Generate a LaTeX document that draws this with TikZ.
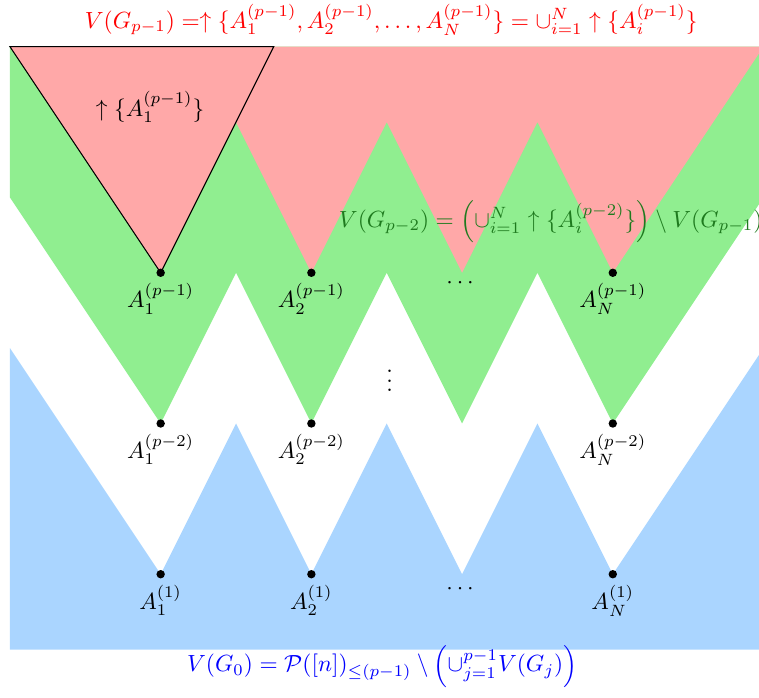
\documentclass[tikz,border=0pt]{standalone}
\usepackage{amsmath}
\usepackage{xcolor}
\usetikzlibrary{positioning}
\definecolor{upred}{HTML}{FFA8A8}
\definecolor{upgreen}{HTML}{90EE90}
\definecolor{upblue}{HTML}{AAD5FF}
\definecolor{txtgreen}{HTML}{1E7A1E}

\begin{document}
\begin{tikzpicture}[
    x=2cm, y=2cm,
    every node/.style={scale=0.883},
    pt/.style={circle, fill=black, inner sep=0pt, minimum size=3.6pt},
    ptlabel/.style={label distance=-1pt}
  ]
    \useasboundingbox (-0.066,-0.816) rectangle (4.97,3.81);

    % V(G_0)
    \fill[upblue] (0,1.5) -- (1,0) -- (1.5,1) -- (2,0) -- (2.5,1) -- (3,0) -- (3.5,1)
        -- (4,0) -- (5,1.5) -- (5,-0.5) -- (0,-0.5) -- cycle;
    % V(G_{p-2})
    \fill[upgreen] (0,3.5) -- (0,2.5) -- (1,1) -- (1.5,2) -- (2,1) -- (2.5,2) -- (3,1)
        -- (3.5,2) -- (4,1) -- (5,2.5) -- (5,3.5) -- cycle;
    % V(G_{p-1})
    \fill[upred] (0,3.5) -- (1,2) -- (1.5,3) -- (2,2) -- (2.5,3) -- (3,2) -- (3.5,3)
        -- (4,2) -- (5,3.5) -- cycle;
    \draw[thin] (0,3.5) -- (1,2) -- (1.75,3.5) -- cycle;

    \node (up1) at (0.93,3.1) {$\uparrow\{A_1^{(p-1)}\}$};

    \node[pt, label={[ptlabel]below:$A_1^{(p-1)}$}] (a11) at (1,2) {};
    \node[pt, label={[ptlabel]below:$A_2^{(p-1)}$}] (a12) at (2,2) {};
    \node[pt, label={[ptlabel]below:$A_N^{(p-1)}$}] (a1N) at (4,2) {};
    \node (dots1) at (3,1.93) {$\cdots$};

    \node[pt, label={[ptlabel]below:$A_1^{(p-2)}$}] (a21) at (1,1) {};
    \node[pt, label={[ptlabel]below:$A_2^{(p-2)}$}] (a22) at (2,1) {};
    \node[pt, label={[ptlabel]below:$A_N^{(p-2)}$}] (a2N) at (4,1) {};
    \node (vdots) at (2.52,1.33) {$\vdots$};

    \node[pt, label={[ptlabel]below:$A_1^{(1)}$}] (a31) at (1,0) {};
    \node[pt, label={[ptlabel]below:$A_2^{(1)}$}] (a32) at (2,0) {};
    \node[pt, label={[ptlabel]below:$A_N^{(1)}$}] (a3N) at (4,0) {};
    \node (dots3) at (3,-0.1) {$\cdots$};

    \node[text=red] (top) at (2.53,3.68)
        {$V(G_{p-1}) =\uparrow\{A_1^{(p-1)}, A_2^{(p-1)}, \ldots, A_N^{(p-1)}\} = \cup_{i=1}^N \uparrow\{A_i^{(p-1)}\}$};
    \node[text=txtgreen, anchor=west, inner sep=0pt] (mid) at (2.18,2.34)
        {$V(G_{p-2}) = \left(\cup_{i=1}^N \uparrow\{A_i^{(p-2)}\}\right) \setminus V(G_{p-1})$};
    \node[text=blue] (bot) at (2.47,-0.61)
        {$V(G_0) = \mathcal{P}([n])_{\leq (p-1)} \setminus \left(\cup_{j=1}^{p-1} V(G_j)\right)$};
  \end{tikzpicture}
\end{document}
